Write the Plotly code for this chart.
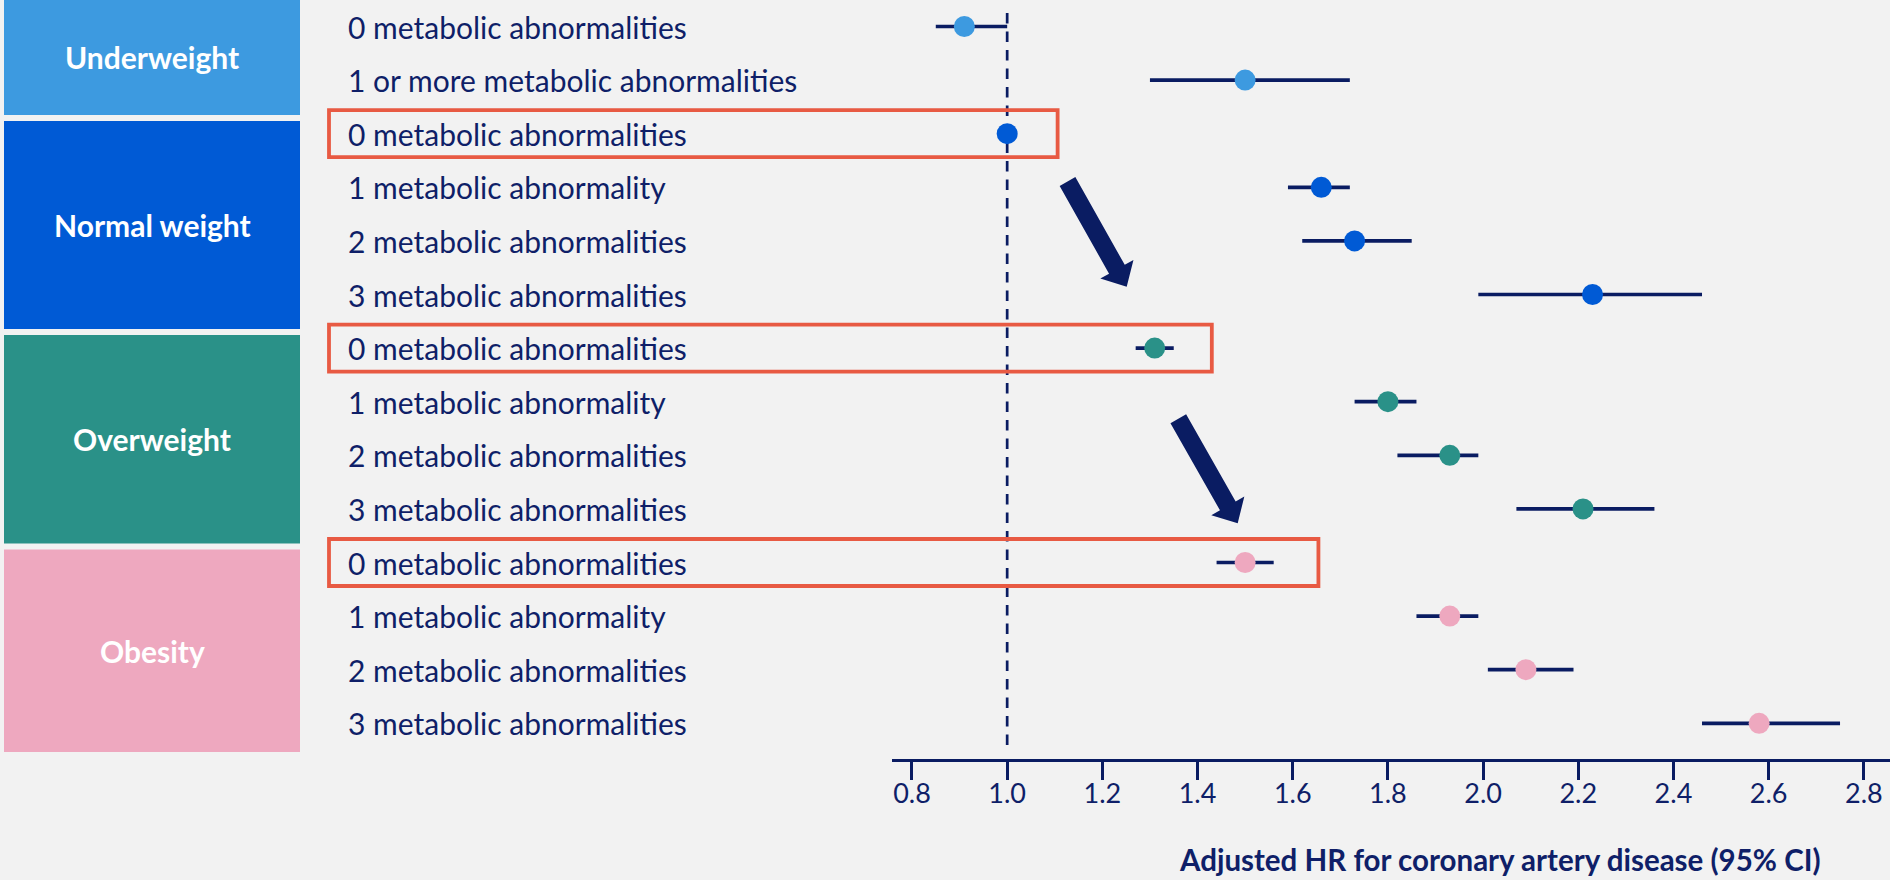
import plotly.graph_objects as go
import math

# ---------------- data ----------------
groups = ["Underweight", "Normal weight", "Overweight", "Obesity"]
group_colors = ["#3d9ae0", "#005ad5", "#2a9188", "#eea8bf"]

row_labels = [
    "0 metabolic abnormalities",
    "1 or more metabolic abnormalities",
    "0 metabolic abnormalities",
    "1 metabolic abnormality",
    "2 metabolic abnormalities",
    "3 metabolic abnormalities",
    "0 metabolic abnormalities",
    "1 metabolic abnormality",
    "2 metabolic abnormalities",
    "3 metabolic abnormalities",
    "0 metabolic abnormalities",
    "1 metabolic abnormality",
    "2 metabolic abnormalities",
    "3 metabolic abnormalities",
]
row_group = [0, 0, 1, 1, 1, 1, 2, 2, 2, 2, 3, 3, 3, 3]
hr = [0.91, 1.50, 1.00, 1.66, 1.73, 2.23, 1.31, 1.80, 1.93, 2.21, 1.50, 1.93, 2.09, 2.58]
ci_low = [0.85, 1.30, 1.00, 1.59, 1.62, 1.99, 1.27, 1.73, 1.82, 2.07, 1.44, 1.86, 2.01, 2.46]
ci_high = [1.00, 1.72, 1.00, 1.72, 1.85, 2.46, 1.35, 1.86, 1.99, 2.36, 1.56, 1.99, 2.19, 2.75]
highlight_rows = [2, 6, 10]
tick_values = [0.8, 1.0, 1.2, 1.4, 1.6, 1.8, 2.0, 2.2, 2.4, 2.6, 2.8]
tick_labels = ["0.8", "1.0", "1.2", "1.4", "1.6", "1.8", "2.0", "2.2", "2.4", "2.6", "2.8"]
x_title = "Adjusted HR for coronary artery disease (95% CI)"

# ---------------- layout helpers ----------------
W, H = 1890, 880
NAVY = "#0a1c62"
TEXT = "#0f1f68"
RED = "#e85a43"
FONT = "Lato"

X_LEFT_PX, X_RIGHT_PX = 892, 1890
X_RANGE = [0.758, 2.855]
AXIS_Y_PX = 759.4
ROW0_PX, ROW_STEP = 26.5, 53.6
Y_RANGE = [(AXIS_Y_PX - ROW0_PX) / ROW_STEP, -ROW0_PX / ROW_STEP]


def px(x):
    return x / W


def py(y):
    return 1 - y / H


def data_to_px(v):
    return X_LEFT_PX + (v - X_RANGE[0]) / (X_RANGE[1] - X_RANGE[0]) * (X_RIGHT_PX - X_LEFT_PX)


def row_to_px(i):
    return ROW0_PX + i * ROW_STEP


fig = go.Figure()

rows = list(range(len(hr)))
fig.add_trace(go.Scatter(
    x=hr,
    y=rows,
    mode="markers",
    marker=dict(size=21, color=[group_colors[g] for g in row_group], line=dict(width=0)),
    error_x=dict(
        type="data",
        symmetric=False,
        array=[h - m for h, m in zip(ci_high, hr)],
        arrayminus=[m - l for m, l in zip(hr, ci_low)],
        color=NAVY,
        thickness=3.7,
        width=0,
    ),
    showlegend=False,
    hoverinfo="skip",
))

shapes = []
annotations = []

# group boxes on the left
group_boxes_px = [(0, 115), (121, 329), (335, 543.5), (549.5, 752)]
for gi, (y0, y1) in enumerate(group_boxes_px):
    shapes.append(dict(type="rect", xref="paper", yref="paper",
                       x0=px(4), x1=px(300), y0=py(y1), y1=py(y0),
                       fillcolor=group_colors[gi], line=dict(width=0), layer="below"))
    annotations.append(dict(xref="paper", yref="paper", x=px(152), y=py((y0 + y1) / 2),
                            text="<b>%s</b>" % groups[gi], showarrow=False,
                            xanchor="center", yanchor="middle",
                            font=dict(family=FONT, size=30, color="white")))

# row labels
for i, lab in enumerate(row_labels):
    annotations.append(dict(xref="paper", yref="y", x=px(346), y=i, text=lab,
                            showarrow=False, xanchor="left", yanchor="middle",
                            font=dict(family=FONT, size=30, color=TEXT)))

# reference line at HR = 1
shapes.append(dict(type="line", xref="x", yref="y", x0=1.0, x1=1.0,
                   y0=(13 - ROW0_PX) / ROW_STEP, y1=(752 - ROW0_PX) / ROW_STEP,
                   line=dict(color=NAVY, width=2.7, dash="10.5px,8px"), layer="below"))

# highlight boxes
highlight_right = [1.106, 1.43, 1.654]
for r, xr in zip(highlight_rows, highlight_right):
    yc = row_to_px(r)
    shapes.append(dict(type="rect", xref="paper", yref="paper",
                       x0=px(329), x1=px(data_to_px(xr)),
                       y0=py(yc + 23.5), y1=py(yc - 23.5),
                       line=dict(color=RED, width=3.8), fillcolor="rgba(0,0,0,0)", layer="above"))

# arrows


def arrow_path(tail, tip, sw=18, hw=38, hl=20):
    tx, ty = tail
    hx, hy = tip
    L = math.hypot(hx - tx, hy - ty)
    ux, uy = (hx - tx) / L, (hy - ty) / L
    nx, ny = -uy, ux
    bx, by = hx - ux * hl, hy - uy * hl
    pts = [
        (tx + nx * sw / 2, ty + ny * sw / 2),
        (bx + nx * sw / 2, by + ny * sw / 2),
        (bx + nx * hw / 2, by + ny * hw / 2),
        (hx, hy),
        (bx - nx * hw / 2, by - ny * hw / 2),
        (bx - nx * sw / 2, by - ny * sw / 2),
        (tx - nx * sw / 2, ty - ny * sw / 2),
    ]
    return "M " + " L ".join("%f,%f" % (px(x), py(y)) for x, y in pts) + " Z"


for tail, tip in [((1067.5, 181.5), (1126.7, 286.7)), ((1178.3, 418.8), (1237.7, 523.3))]:
    shapes.append(dict(type="path", xref="paper", yref="paper", path=arrow_path(tail, tip),
                       fillcolor=NAVY, line=dict(width=0), layer="above"))

# x axis title
annotations.append(dict(xref="paper", yref="paper", x=px(1500), y=py(859),
                        text="<b>%s</b>" % x_title, showarrow=False,
                        xanchor="center", yanchor="middle",
                        font=dict(family=FONT, size=29.5, color=TEXT)))

fig.update_layout(
    width=W, height=H,
    margin=dict(l=0, r=0, t=0, b=0, autoexpand=False),
    paper_bgcolor="#f2f2f2",
    plot_bgcolor="#f2f2f2",
    showlegend=False,
    shapes=shapes,
    annotations=annotations,
    xaxis=dict(
        domain=[px(X_LEFT_PX), 1],
        range=X_RANGE,
        tickvals=tick_values,
        ticktext=tick_labels,
        ticks="outside",
        ticklen=18,
        tickwidth=2.5,
        tickcolor=NAVY,
        ticklabelstandoff=-10,
        showline=True,
        linewidth=3,
        linecolor=NAVY,
        showgrid=False,
        zeroline=False,
        automargin=False,
        tickfont=dict(family=FONT, size=27, color=TEXT),
    ),
    yaxis=dict(
        domain=[py(AXIS_Y_PX), 1],
        range=Y_RANGE,
        visible=False,
        showgrid=False,
        zeroline=False,
        automargin=False,
    ),
)

fig.write_html(
    "out.html",
    config={"displayModeBar": False},
    post_script="document.body.style.margin='0';document.body.style.overflow='hidden';",
)
